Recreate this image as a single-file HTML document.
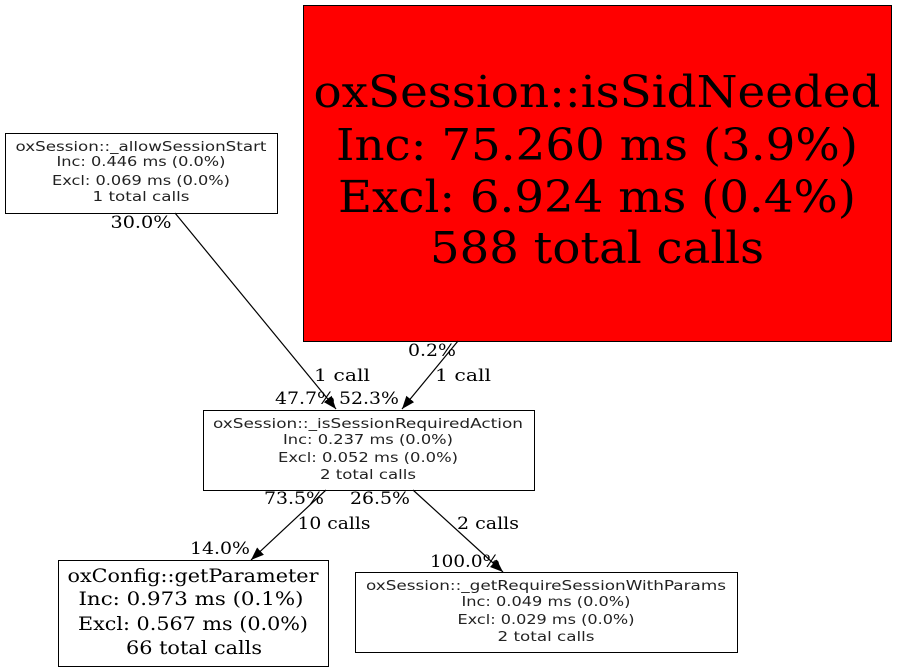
<!DOCTYPE html>
<html><head><meta charset="utf-8"><style>body{margin:0;background:#fff}svg{display:block}</style></head><body>
<svg width="897" height="672" viewBox="0 0 897 672" xmlns="http://www.w3.org/2000/svg">
<defs><marker id="a" markerWidth="14" markerHeight="12" refX="13" refY="6" orient="auto" markerUnits="userSpaceOnUse"><path d="M0,1 L13,6 L0,11 z" fill="#000"/></marker></defs>
<rect x="303.5" y="5.5" width="588" height="336" fill="#f00" stroke="#000"/>
<g font-family="DejaVu Serif, serif" font-size="44" text-anchor="middle">
<text x="597" y="107" textLength="567" lengthAdjust="spacingAndGlyphs">oxSession::isSidNeeded</text>
<text x="597" y="160" textLength="522" lengthAdjust="spacingAndGlyphs">Inc: 75.260 ms (3.9%)</text>
<text x="597" y="212" textLength="518" lengthAdjust="spacingAndGlyphs">Excl: 6.924 ms (0.4%)</text>
<text x="597" y="263" textLength="334" lengthAdjust="spacingAndGlyphs">588 total calls</text>
</g>
<rect x="5.5" y="133.5" width="272" height="80" fill="#fff" stroke="#000"/>
<g font-family="DejaVu Sans, sans-serif" font-size="13" text-anchor="middle" fill="#222">
<text x="141" y="151" textLength="251" lengthAdjust="spacingAndGlyphs">oxSession::_allowSessionStart</text>
<text x="141" y="166" textLength="169" lengthAdjust="spacingAndGlyphs">Inc: 0.446 ms (0.0%)</text>
<text x="141" y="185" textLength="178" lengthAdjust="spacingAndGlyphs">Excl: 0.069 ms (0.0%)</text>
<text x="141" y="201" textLength="97" lengthAdjust="spacingAndGlyphs">1 total calls</text>
</g>
<rect x="203.5" y="410.5" width="331" height="80" fill="#fff" stroke="#000"/>
<g font-family="DejaVu Sans, sans-serif" font-size="13" text-anchor="middle" fill="#222">
<text x="368" y="428" textLength="310" lengthAdjust="spacingAndGlyphs">oxSession::_isSessionRequiredAction</text>
<text x="368" y="444" textLength="170" lengthAdjust="spacingAndGlyphs">Inc: 0.237 ms (0.0%)</text>
<text x="368" y="462" textLength="180" lengthAdjust="spacingAndGlyphs">Excl: 0.052 ms (0.0%)</text>
<text x="368" y="479" textLength="96" lengthAdjust="spacingAndGlyphs">2 total calls</text>
</g>
<rect x="58.5" y="560.5" width="270" height="106" fill="#fff" stroke="#000"/>
<g font-family="DejaVu Serif, serif" font-size="19" text-anchor="middle">
<text x="193" y="582" textLength="251" lengthAdjust="spacingAndGlyphs">oxConfig::getParameter</text>
<text x="191" y="605" textLength="225" lengthAdjust="spacingAndGlyphs">Inc: 0.973 ms (0.1%)</text>
<text x="193" y="630" textLength="230" lengthAdjust="spacingAndGlyphs">Excl: 0.567 ms (0.0%)</text>
<text x="194" y="654" textLength="136" lengthAdjust="spacingAndGlyphs">66 total calls</text>
</g>
<rect x="355.5" y="572.5" width="382" height="80" fill="#fff" stroke="#000"/>
<g font-family="DejaVu Sans, sans-serif" font-size="13" text-anchor="middle" fill="#222">
<text x="546" y="590" textLength="360" lengthAdjust="spacingAndGlyphs">oxSession::_getRequireSessionWithParams</text>
<text x="546" y="606" textLength="169" lengthAdjust="spacingAndGlyphs">Inc: 0.049 ms (0.0%)</text>
<text x="546" y="624" textLength="177" lengthAdjust="spacingAndGlyphs">Excl: 0.029 ms (0.0%)</text>
<text x="546" y="641" textLength="97" lengthAdjust="spacingAndGlyphs">2 total calls</text>
</g>
<g stroke="#000" stroke-width="1.2" fill="none" marker-end="url(#a)">
<line x1="175" y1="213" x2="336" y2="409"/>
<line x1="458" y1="341" x2="402" y2="409"/>
<line x1="326" y1="490" x2="251" y2="560"/>
<line x1="413" y1="490" x2="503" y2="572"/>
</g>
<g font-family="DejaVu Serif, serif" font-size="17" text-anchor="middle">
<text x="141" y="228" textLength="61" lengthAdjust="spacingAndGlyphs">30.0%</text>
<text x="342" y="381" textLength="56" lengthAdjust="spacingAndGlyphs">1 call</text>
<text x="305" y="404" textLength="60" lengthAdjust="spacingAndGlyphs">47.7%</text>
<text x="369" y="404" textLength="60" lengthAdjust="spacingAndGlyphs">52.3%</text>
<text x="432" y="356" textLength="48" lengthAdjust="spacingAndGlyphs">0.2%</text>
<text x="463" y="381" textLength="56" lengthAdjust="spacingAndGlyphs">1 call</text>
<text x="294" y="504" textLength="60" lengthAdjust="spacingAndGlyphs">73.5%</text>
<text x="380" y="504" textLength="60" lengthAdjust="spacingAndGlyphs">26.5%</text>
<text x="334" y="529" textLength="73" lengthAdjust="spacingAndGlyphs">10 calls</text>
<text x="488" y="529" textLength="62" lengthAdjust="spacingAndGlyphs">2 calls</text>
<text x="220" y="554" textLength="60" lengthAdjust="spacingAndGlyphs">14.0%</text>
<text x="465" y="567" textLength="70" lengthAdjust="spacingAndGlyphs">100.0%</text>
</g>
</svg>
</body></html>
